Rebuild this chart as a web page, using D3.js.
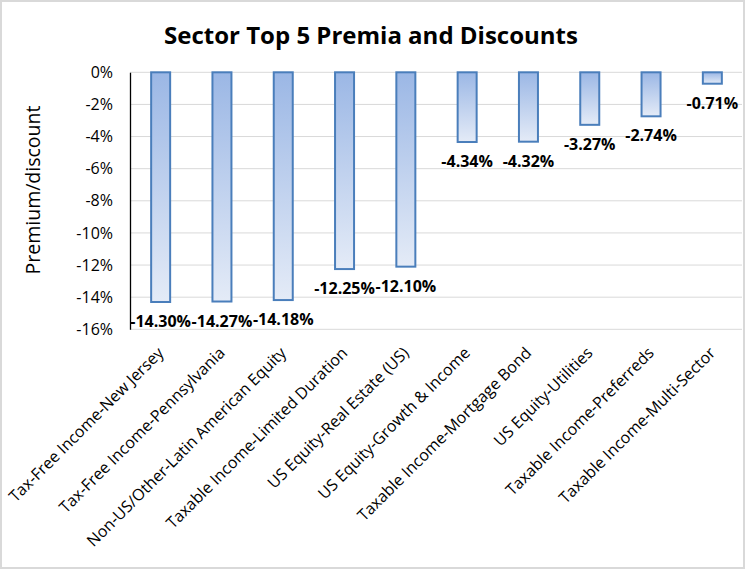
<!DOCTYPE html>
<html>
<head>
<meta charset="utf-8">
<script src="https://cdn.jsdelivr.net/npm/d3@7"></script>
<style>
  body { margin: 0; background: #fff; }
  svg { display: block; font-family: "Open Sans", sans-serif; }
</style>
</head>
<body>
<div id="container"></div>
<script>
// data
let sectors = [
  "Tax-Free Income-New Jersey",
  "Tax-Free Income-Pennsylvania",
  "Non-US/Other-Latin American Equity",
  "Taxable Income-Limited Duration",
  "US Equity-Real Estate (US)",
  "US Equity-Growth & Income",
  "Taxable Income-Mortgage Bond",
  "US Equity-Utilities",
  "Taxable Income-Preferreds",
  "Taxable Income-Multi-Sector"
];
let premia = [-14.30, -14.27, -14.18, -12.25, -12.10, -4.34, -4.32, -3.27, -2.74, -0.71];
let yTicks = [0, -2, -4, -6, -8, -10, -12, -14, -16];

let w = 746;
let h = 570;

let viz = d3.select("#container")
    .append("svg")
    .attr("width", w)
    .attr("height", h);

// outer chart border
viz.append("rect")
    .attr("x", 1).attr("y", 1)
    .attr("width", w - 3).attr("height", h - 3)
    .attr("fill", "#fff")
    .attr("stroke", "#d9d9d9")
    .attr("stroke-width", 2);

// gradient for the bars, dark at top, light at bottom
let grad = viz.append("defs").append("linearGradient")
    .attr("id", "barFill")
    .attr("x1", 0).attr("y1", 0).attr("x2", 0).attr("y2", 1);
grad.append("stop").attr("offset", "0%").attr("stop-color", "#9bb7e5");
grad.append("stop").attr("offset", "100%").attr("stop-color", "#e4ebf7");

let data = sectors.map((s, i) => ({key: s, value: premia[i]}));

let xScale = d3.scaleBand()
    .domain(sectors)
    .range([130, 743])
    .paddingInner(0.69)
    .paddingOuter(0.345);

let yScale = d3.scaleLinear()
    .domain([0, -16])
    .range([72.3, 329.3]);

// gridlines
viz.append("g").classed("grid", true)
    .selectAll("line")
    .data(yTicks)
    .enter()
    .append("line")
    .attr("x1", 130)
    .attr("x2", 742)
    .attr("y1", d => yScale(d))
    .attr("y2", d => yScale(d))
    .attr("stroke", "#d9d9d9")
    .attr("stroke-width", 1);

// y axis
let yAxis = d3.axisLeft(yScale)
    .tickValues(yTicks)
    .tickSize(0)
    .tickPadding(17)
    .tickFormat(d => d + "%");
let yAxisGroup = viz.append("g").classed("yAxis", true)
    .attr("transform", "translate(130,0)")
    .call(yAxis);
yAxisGroup.select(".domain").attr("stroke", "#000").attr("stroke-width", 1.3);
yAxisGroup.selectAll("text")
    .attr("font-size", 16)
    .attr("font-family", "Open Sans")
    .attr("fill", "#000");

// bars
let graphGroup = viz.append("g").classed("graphGroup", true);
graphGroup.selectAll(".bar")
    .data(data)
    .enter()
    .append("rect")
    .classed("bar", true)
    .attr("x", d => xScale(d.key))
    .attr("y", yScale(0))
    .attr("width", xScale.bandwidth())
    .attr("height", d => yScale(d.value) - yScale(0))
    .attr("fill", "url(#barFill)")
    .attr("stroke", "#4a7ebb")
    .attr("stroke-width", 2);

// value labels below each bar
graphGroup.selectAll(".valueLabel")
    .data(data)
    .enter()
    .append("text")
    .classed("valueLabel", true)
    .attr("x", d => xScale(d.key) + xScale.bandwidth() / 2)
    .attr("y", d => yScale(d.value) + 25)
    .attr("text-anchor", "middle")
    .attr("font-size", 16)
    .attr("font-weight", "bold")
    .attr("fill", "#000")
    .text(d => d.value.toFixed(2) + "%");

// x axis category labels, rotated
let xAxis = d3.axisBottom(xScale).tickSize(0).tickPadding(0);
let xAxisGroup = viz.append("g").classed("xAxis", true)
    .attr("transform", "translate(0,350)")
    .call(xAxis);
xAxisGroup.select(".domain").remove();
xAxisGroup.selectAll("text")
    .attr("font-size", 16)
    .attr("font-family", "Open Sans")
    .attr("fill", "#000")
    .attr("text-anchor", "end")
    .attr("dy", "0.35em")
    .attr("transform", "rotate(-45)");

// y title
viz.append("text")
    .attr("transform", "translate(40,190) rotate(-90)")
    .attr("text-anchor", "middle")
    .attr("font-size", 19.5)
    .attr("fill", "#000")
    .text("Premium/discount");

// chart title
viz.append("text")
    .attr("x", 371)
    .attr("y", 44)
    .attr("text-anchor", "middle")
    .attr("font-size", 24)
    .attr("font-weight", "bold")
    .attr("fill", "#000")
    .text("Sector Top 5 Premia and Discounts");
</script>
</body>
</html>
